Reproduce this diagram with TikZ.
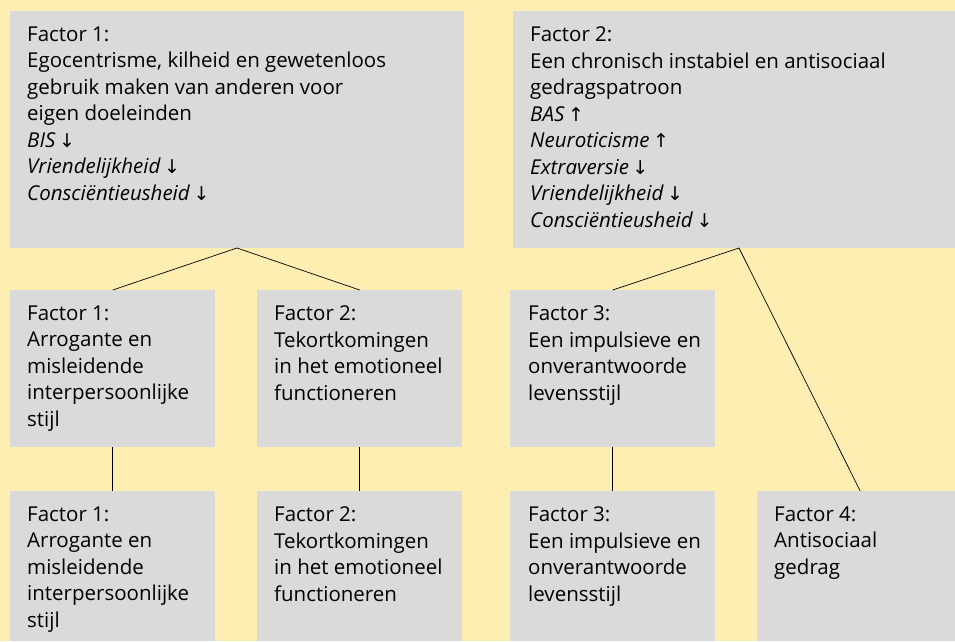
\documentclass[tikz,border=0pt]{standalone}
\usepackage{fontspec}
\setmainfont{Open Sans}
\newfontfamily\arrowfont{DejaVu Sans}
\definecolor{bgyellow}{HTML}{FFEEB2}
\definecolor{boxgrey}{HTML}{DADADA}
\newcommand{\dn}{\,{\arrowfont\fontsize{19}{19}\selectfont ↓}}
\newcommand{\up}{\,{\arrowfont\fontsize{19}{19}\selectfont ↑}}
\tikzset{
  boxnode/.style={fill=boxgrey, draw=none, inner sep=0pt, anchor=north west},
  txt/.style={inner sep=0pt, anchor=north west, align=left, font=\fontsize{20.5}{26.5}\selectfont},
  link/.style={draw=black, line width=0.7pt}
}
\begin{document}
\begin{tikzpicture}[x=1pt,y=-1pt]
\fill[bgyellow] (0,0) rectangle (955,641);
\useasboundingbox (0,0) rectangle (955,641);
% top row
\node[boxnode, minimum width=454pt, minimum height=237pt] (t1) at (10,11) {};
\node[boxnode, minimum width=442pt, minimum height=237pt] (t2) at (513,11) {};
% middle row
\node[boxnode, minimum width=205pt, minimum height=157pt] (m1) at (10,290) {};
\node[boxnode, minimum width=205pt, minimum height=157pt] (m2) at (257,290) {};
\node[boxnode, minimum width=205pt, minimum height=157pt] (m3) at (510,290) {};
% bottom row
\node[boxnode, minimum width=205pt, minimum height=150pt] (b1) at (10,491) {};
\node[boxnode, minimum width=205pt, minimum height=150pt] (b2) at (257,491) {};
\node[boxnode, minimum width=205pt, minimum height=150pt] (b3) at (510,491) {};
\node[boxnode, minimum width=198pt, minimum height=150pt] (b4) at (757,491) {};
% texts
\node[txt] (t1txt) at ([xshift=17pt,yshift=-15.5pt]t1.north west) {Factor 1:\\Egocentrisme, kilheid en gewetenloos\\gebruik maken van anderen voor\\eigen doeleinden\\\textit{BIS}\dn\\\textit{Vriendelijkheid}\dn\\\textit{Consciëntieusheid}\dn};
\node[txt] (t2txt) at ([xshift=17pt,yshift=-15.5pt]t2.north west) {Factor 2:\\Een chronisch instabiel en antisociaal\\gedragspatroon\\\textit{BAS}\up\\\textit{Neuroticisme}\up\\\textit{Extraversie}\dn\\\textit{Vriendelijkheid}\dn\\\textit{Consciëntieusheid}\dn};
\node[txt] (m1txt) at ([xshift=17pt,yshift=-15.5pt]m1.north west) {Factor 1:\\Arrogante en\\misleidende\\interpersoonlijke\\stijl};
\node[txt] (m2txt) at ([xshift=17pt,yshift=-15.5pt]m2.north west) {Factor 2:\\Tekortkomingen\\in het emotioneel\\functioneren};
\node[txt] (m3txt) at ([xshift=18pt,yshift=-15.5pt]m3.north west) {Factor 3:\\Een impulsieve en\\onverantwoorde\\levensstijl};
\node[txt] (b1txt) at ([xshift=17pt,yshift=-15.5pt]b1.north west) {Factor 1:\\Arrogante en\\misleidende\\interpersoonlijke\\stijl};
\node[txt] (b2txt) at ([xshift=17pt,yshift=-15.5pt]b2.north west) {Factor 2:\\Tekortkomingen\\in het emotioneel\\functioneren};
\node[txt] (b3txt) at ([xshift=18pt,yshift=-15.5pt]b3.north west) {Factor 3:\\Een impulsieve en\\onverantwoorde\\levensstijl};
\node[txt] (b4txt) at ([xshift=17pt,yshift=-15.5pt]b4.north west) {Factor 4:\\Antisociaal\\gedrag};
% connectors
\coordinate (t1b) at (237,248);
\coordinate (t2b) at (739,248);
\draw[link] (m1.north) -- (t1b) -- (m2.north);
\draw[link] (m3.north) -- (t2b) -- ([xshift=4pt]b4.north);
\draw[link] (m1.south) -- (b1.north);
\draw[link] (m2.south) -- (b2.north);
\draw[link] (m3.south) -- (b3.north);
\end{tikzpicture}
\end{document}
